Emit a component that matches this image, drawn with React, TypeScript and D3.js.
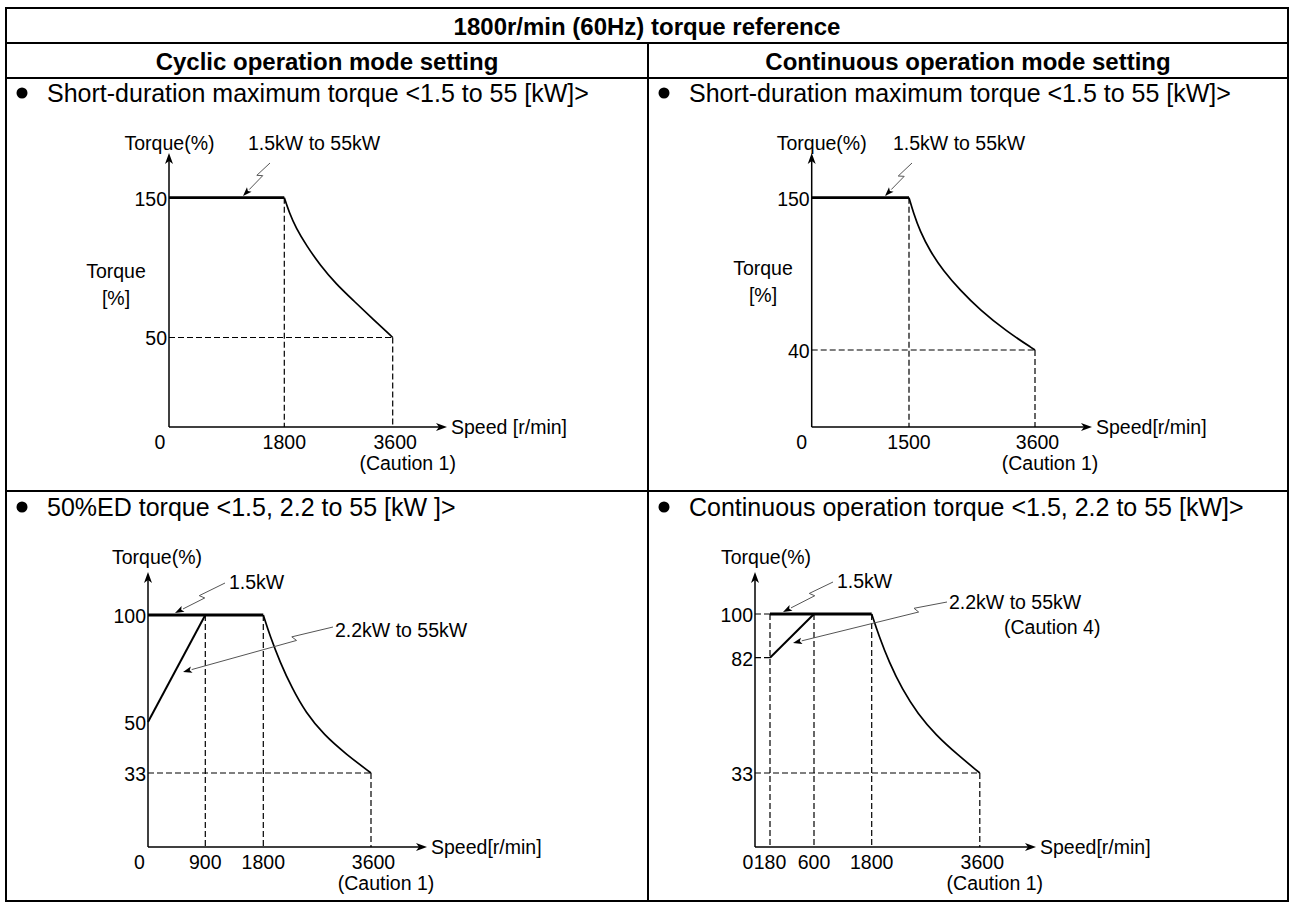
import React from 'react';
import * as d3 from 'd3';

type Pt = [number, number];

// ---------------- text content ----------------
const TITLE = '1800r/min (60Hz) torque reference';
const COLUMN_HEADERS = ['Cyclic operation mode setting', 'Continuous operation mode setting'];
const PANEL_TITLES = [
  'Short-duration maximum torque <1.5 to 55 [kW]>',
  'Short-duration maximum torque <1.5 to 55 [kW]>',
  '50%ED torque <1.5, 2.2 to 55 [kW ]>',
  'Continuous operation torque <1.5, 2.2 to 55 [kW]>',
];

// ---------------- Panel A: cyclic, short-duration max torque ----------------
const aXTicks = [0, 1800, 3600];
const aYTicks = [50, 150];
const aFlat: Pt[] = [[0, 150], [1800, 150]];
const aCurve: Pt[] = [[1800, 150], [1878, 139.8], [1994, 128.3], [2172, 115.5], [2393, 101.9], [2658, 88.3], [2957, 76.1], [3277, 62.9], [3600, 50]];
const aGuidesV: Pt[] = [[1800, 150], [3600, 50]];
const aGuidesH: [number, number, number][] = [[50, 0, 3600]];

// ---------------- Panel B: continuous, short-duration max torque ----------------
const bXTicks = [0, 1500, 3600];
const bYTicks = [40, 150];
const bFlat: Pt[] = [[0, 150], [1500, 150]];
const bCurve: Pt[] = [[1500, 150], [1575, 139], [1683, 125.9], [1850, 111.5], [2072, 97.1], [2350, 83.3], [2683, 68.9], [3117, 53.7], [3600, 40]];
const bGuidesV: Pt[] = [[1500, 150], [3600, 40]];
const bGuidesH: [number, number, number][] = [[40, 0, 3600]];

// ---------------- Panel C: 50%ED torque ----------------
const cXTicks = [0, 900, 1800, 3600];
const cYTicks = [33, 50, 100];
const cFlat: Pt[] = [[0, 100], [1800, 100]];
const cRamp: Pt[] = [[0, 50], [900, 100]];
const cCurve: Pt[] = [[1800, 100], [1912, 90.2], [2079, 78], [2280, 65.8], [2514, 54.2], [2814, 45.7], [3182, 39.3], [3600, 33]];
const cGuidesV: Pt[] = [[900, 100], [1800, 100], [3600, 33]];
const cGuidesH: [number, number, number][] = [[33, 0, 3600]];

// ---------------- Panel D: continuous operation torque ----------------
const dXTicks = [0, 180, 600, 1800, 3600];
const dYTicks = [33, 82, 100];
const dFlat: Pt[] = [[180, 100], [1800, 100]];
const dRamp: Pt[] = [[180, 82], [600, 100]];
const dCurve: Pt[] = [[1800, 100], [1922, 90.9], [2088, 80.2], [2305, 68.7], [2571, 58], [2871, 49.1], [3221, 41], [3600, 33]];
const dGuidesV: Pt[] = [[180, 100], [600, 100], [1800, 100], [3600, 33]];
const dGuidesH: [number, number, number][] = [[100, 0, 180], [82, 0, 180], [33, 0, 3600]];

// ---------------- layout (pixels) ----------------
const FONT = '"Liberation Sans", Arial, Helvetica, sans-serif';
const FS = 19.5;
const TABLE = { x1: 6, x2: 1288, y1: 8, y2: 901, mid: 648, r1: 43, r2: 78, r3: 491 };

interface PanelData {
  xTicks: number[]; yTicks: number[]; flat: Pt[]; ramp?: Pt[]; curve: Pt[];
  guidesV: Pt[]; guidesH: [number, number, number][];
  speedLabel: string;
}
interface Annot { text: string[]; tx: number; ty: number; S?: Pt; E?: Pt; kink?: number }
interface PanelLayout {
  xPx: number[]; yPx: number[]; axisEnd: number; axisTop: number; yLabelY: number;
  zeroDx: number; yLabelDx: number; sideLabel?: Pt; annots: Annot[];
}

const PANELS: { d: PanelData; L: PanelLayout }[] = [
  {
    d: { xTicks: aXTicks, yTicks: aYTicks, flat: aFlat, curve: aCurve, guidesV: aGuidesV, guidesH: aGuidesH, speedLabel: 'Speed [r/min]' },
    L: {
      xPx: [169, 284.3, 392.7], yPx: [427, 337.5, 197.7], axisEnd: 447, axisTop: 153, yLabelY: 143, zeroDx: -9, yLabelDx: 0.5,
      sideLabel: [116, 271.5],
      annots: [{ text: ['1.5kW to 55kW'], tx: 248, ty: 143, S: [270, 163], E: [243, 196], kink: 0.42 }],
    },
  },
  {
    d: { xTicks: bXTicks, yTicks: bYTicks, flat: bFlat, curve: bCurve, guidesV: bGuidesV, guidesH: bGuidesH, speedLabel: 'Speed[r/min]' },
    L: {
      xPx: [811.7, 909, 1035], yPx: [427, 350, 197.7], axisEnd: 1092, axisTop: 153, yLabelY: 143, zeroDx: -10, yLabelDx: 10,
      sideLabel: [763, 268.5],
      annots: [{ text: ['1.5kW to 55kW'], tx: 893, ty: 143, S: [912, 163], E: [885, 196], kink: 0.44 }],
    },
  },
  {
    d: { xTicks: cXTicks, yTicks: cYTicks, flat: cFlat, ramp: cRamp, curve: cCurve, guidesV: cGuidesV, guidesH: cGuidesH, speedLabel: 'Speed[r/min]' },
    L: {
      xPx: [148, 205.3, 263.3, 371], yPx: [847, 773, 722, 615], axisEnd: 427, axisTop: 572, yLabelY: 557, zeroDx: -8.5, yLabelDx: 9,
      annots: [
        { text: ['1.5kW'], tx: 229, ty: 582, S: [225, 583], E: [175, 613], kink: 0.49 },
        { text: ['2.2kW to 55kW'], tx: 335, ty: 630, S: [333, 627], E: [183, 672], kink: 0.27 },
      ],
    },
  },
  {
    d: { xTicks: dXTicks, yTicks: dYTicks, flat: dFlat, ramp: dRamp, curve: dCurve, guidesV: dGuidesV, guidesH: dGuidesH, speedLabel: 'Speed[r/min]' },
    L: {
      xPx: [755, 770, 814, 871.7, 979.8], yPx: [847, 773, 657.7, 614], axisEnd: 1036, axisTop: 572, yLabelY: 557, zeroDx: -7, yLabelDx: 11,
      annots: [
        { text: ['1.5kW'], tx: 837, ty: 581, S: [833, 582], E: [783, 612], kink: 0.45 },
        { text: ['2.2kW to 55kW'], tx: 949, ty: 602, S: [947, 602], E: [793, 643], kink: 0.21 },
        { text: ['(Caution 4)'], tx: 1004, ty: 627 },
      ],
    },
  },
];

function leader(S: Pt, E: Pt, kink: number) {
  const dx = E[0] - S[0], dy = E[1] - S[1];
  const len = Math.hypot(dx, dy);
  const u: Pt = [dx / len, dy / len];
  const n: Pt = [u[1], -u[0]];
  const h = 2.4, back = 3.5;
  const A: Pt = [S[0] + u[0] * len * kink - n[0] * h, S[1] + u[1] * len * kink - n[1] * h];
  const B: Pt = [A[0] + n[0] * 2 * h - u[0] * back, A[1] + n[1] * 2 * h - u[1] * back];
  const ex = E[0] - B[0], ey = E[1] - B[1];
  const el = Math.hypot(ex, ey);
  const v: Pt = [ex / el, ey / el];
  const w: Pt = [-v[1], v[0]];
  const hl = 9, hw = 3.2;
  const base: Pt = [E[0] - v[0] * hl, E[1] - v[1] * hl];
  const line = `M${S[0]},${S[1]}L${A[0]},${A[1]}L${B[0]},${B[1]}L${base[0]},${base[1]}`;
  const head = `M${E[0]},${E[1]}L${base[0] + w[0] * hw},${base[1] + w[1] * hw}L${base[0] + v[0] * 2},${base[1] + v[1] * 2}L${base[0] - w[0] * hw},${base[1] - w[1] * hw}Z`;
  return { line, head };
}

function Panel({ d, L }: { d: PanelData; L: PanelLayout }) {
  const x = d3.scaleLinear().domain(d.xTicks).range(L.xPx);
  const y = d3.scaleLinear().domain([0, ...d.yTicks]).range(L.yPx);
  const straight = d3.line<Pt>().x((p) => x(p[0])).y((p) => y(p[1]));
  const smooth = d3.line<Pt>().x((p) => x(p[0])).y((p) => y(p[1])).curve(d3.curveBasis);
  const x0 = x(0), y0 = y(0);
  const dash = '6 3';
  const lastX = d.xTicks[d.xTicks.length - 1];
  return (
    <g>
      {d.guidesV.map(([gx, gy], i) => (
        <line key={'gv' + i} x1={x(gx)} x2={x(gx)} y1={y(gy)} y2={y0} stroke="#000" strokeWidth={1.2} strokeDasharray={dash} />
      ))}
      {d.guidesH.map(([gy, ga, gb], i) => (
        <line key={'gh' + i} x1={x(ga)} x2={x(gb)} y1={y(gy)} y2={y(gy)} stroke="#000" strokeWidth={1.2} strokeDasharray={dash} />
      ))}
      {/* axes */}
      <line x1={x0} y1={y0} x2={L.axisEnd - 6} y2={y0} stroke="#000" strokeWidth={1.5} />
      <path d={`M${L.axisEnd},${y0}l-11,-4l3,4l-3,4z`} fill="#000" />
      <line x1={x0} y1={y0} x2={x0} y2={L.axisTop + 6} stroke="#000" strokeWidth={1.5} />
      <path d={`M${x0},${L.axisTop}l-4,11l4,-3l4,3z`} fill="#000" />
      {/* torque characteristics */}
      <path d={straight(d.flat) || ''} fill="none" stroke="#000" strokeWidth={2.8} />
      {d.ramp && <path d={straight(d.ramp) || ''} fill="none" stroke="#000" strokeWidth={2} />}
      <path d={smooth(d.curve) || ''} fill="none" stroke="#000" strokeWidth={1.7} />
      {/* y tick labels */}
      {d.yTicks.map((t) => (
        <text key={'yt' + t} x={x0 - 2} y={y(t) + 1} dy="0.35em" textAnchor="end" fontSize={FS}>{t}</text>
      ))}
      {/* x tick labels */}
      {d.xTicks.map((t) => (
        <text key={'xt' + t} x={x(t) + (t === 0 ? L.zeroDx : t === lastX ? 2.5 : 0)} y={y0 + 15} dy="0.35em" textAnchor="middle" fontSize={FS}>{t}</text>
      ))}
      <text x={x(lastX) + 15} y={y0 + 36} dy="0.35em" textAnchor="middle" fontSize={FS}>(Caution 1)</text>
      <text x={L.axisEnd + 4} y={y0} dy="0.35em" fontSize={FS}>{d.speedLabel}</text>
      <text x={x0 + L.yLabelDx} y={L.yLabelY} dy="0.35em" textAnchor="middle" fontSize={FS}>Torque(%)</text>
      {L.sideLabel && (
        <g>
          <text x={L.sideLabel[0]} y={L.sideLabel[1]} dy="0.35em" textAnchor="middle" fontSize={FS}>Torque</text>
          <text x={L.sideLabel[0]} y={L.sideLabel[1] + 27} dy="0.35em" textAnchor="middle" fontSize={FS}>[%]</text>
        </g>
      )}
      {L.annots.map((a, i) => {
        const ld = a.S && a.E ? leader(a.S, a.E, a.kink ?? 0.5) : null;
        return (
          <g key={'an' + i}>
            {ld && <path d={ld.line} fill="none" stroke="#555" strokeWidth={1} />}
            {ld && <path d={ld.head} fill="#000" />}
            {a.text.map((s, j) => (
              <text key={j} x={a.tx} y={a.ty + j * 25} dy="0.35em" fontSize={FS}>{s}</text>
            ))}
          </g>
        );
      })}
    </g>
  );
}

export default function App() {
  const T = TABLE;
  const bullets: Pt[] = [[T.x1, 93], [T.mid, 93], [T.x1, 507], [T.mid, 507]];
  return (
    <svg width={1292} height={903} style={{ position: 'absolute', left: 0, top: 0, background: '#fff' }} fontFamily={FONT} fill="#000">
      <rect x={0} y={0} width={1292} height={903} fill="#fff" />
      {/* table grid */}
      <rect x={T.x1} y={T.y1} width={T.x2 - T.x1} height={T.y2 - T.y1} fill="none" stroke="#000" strokeWidth={2} />
      <line x1={T.x1} x2={T.x2} y1={T.r1} y2={T.r1} stroke="#000" strokeWidth={2} />
      <line x1={T.x1} x2={T.x2} y1={T.r2} y2={T.r2} stroke="#000" strokeWidth={2} />
      <line x1={T.x1} x2={T.x2} y1={T.r3} y2={T.r3} stroke="#000" strokeWidth={2} />
      <line x1={T.mid} x2={T.mid} y1={T.r1} y2={T.y2} stroke="#000" strokeWidth={2} />
      {/* headers */}
      <text x={(T.x1 + T.x2) / 2} y={(T.y1 + T.r1) / 2 + 1} dy="0.35em" textAnchor="middle" fontSize={24} fontWeight="bold">{TITLE}</text>
      <text x={(T.x1 + T.mid) / 2} y={(T.r1 + T.r2) / 2 + 1} dy="0.35em" textAnchor="middle" fontSize={24} fontWeight="bold">{COLUMN_HEADERS[0]}</text>
      <text x={(T.mid + T.x2) / 2} y={(T.r1 + T.r2) / 2 + 1} dy="0.35em" textAnchor="middle" fontSize={24} fontWeight="bold">{COLUMN_HEADERS[1]}</text>
      {/* panel titles */}
      {PANEL_TITLES.map((s, i) => (
        <g key={'pt' + i}>
          <circle cx={bullets[i][0] + 16} cy={bullets[i][1]} r={5.5} fill="#000" />
          <text x={bullets[i][0] + 41} y={bullets[i][1]} dy="0.35em" fontSize={25}>{s}</text>
        </g>
      ))}
      {PANELS.map((p, i) => <Panel key={i} d={p.d} L={p.L} />)}
    </svg>
  );
}
